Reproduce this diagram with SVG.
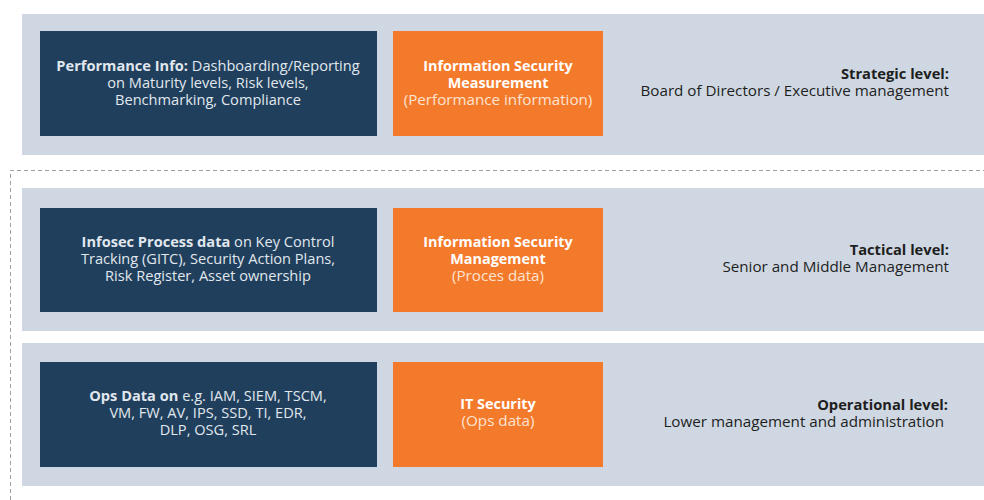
<svg xmlns="http://www.w3.org/2000/svg" width="984" height="500" viewBox="0 0 984 500">
<style>
.band{fill:#cfd8e2}
.dark{fill:#1f3f5c}
.orange{fill:#f47a2b}
.t{font-family:"Open Sans","Liberation Sans",sans-serif;font-size:14.6px}
.dt{fill:#e1e7ee;text-anchor:middle}
.ot{fill:#ffffff;text-anchor:middle;font-size:14.4px}
.ot2{fill:#fde3d2;text-anchor:middle;font-size:15.2px}
.rt{fill:#1e1e1e;text-anchor:end;font-size:15.2px}
.rb{fill:#1e1e1e;text-anchor:end;font-size:14.7px;font-weight:bold}
.b{font-weight:bold}
.dash{fill:none;stroke:#9aa0a6;stroke-width:1;stroke-dasharray:4 3}
</style>
<rect width="984" height="500" fill="#ffffff"/>
<g id="connectors">
<path class="dash" d="M10.5,500 L10.5,170.5 L984,170.5"/>
</g>
<g id="band-strategic">
<rect class="band" x="22" y="14" width="962" height="141"/>
<rect class="dark" x="40" y="31" width="337" height="105"/>
<text class="t dt" x="208" y="71"><tspan class="b">Performance Info:</tspan> Dashboarding/Reporting</text>
<text class="t dt" x="208" y="88">on Maturity levels, Risk levels,</text>
<text class="t dt" x="208" y="105">Benchmarking, Compliance</text>
<rect class="orange" x="393" y="31" width="210" height="105"/>
<text class="t ot b" x="498" y="71">Information Security</text>
<text class="t ot b" x="498" y="88">Measurement</text>
<text class="t ot2" x="498" y="105">(Performance information)</text>
<text class="t rb" x="949" y="79">Strategic level:</text>
<text class="t rt" x="949" y="96">Board of Directors / Executive management</text>
</g>
<g id="band-tactical">
<rect class="band" x="22" y="188" width="962" height="143"/>
<rect class="dark" x="40" y="208" width="337" height="104"/>
<text class="t dt" x="208" y="247"><tspan class="b">Infosec Process data</tspan> on Key Control</text>
<text class="t dt" x="208" y="264">Tracking (GITC), Security Action Plans,</text>
<text class="t dt" x="208" y="281">Risk Register, Asset ownership</text>
<rect class="orange" x="393" y="208" width="210" height="104"/>
<text class="t ot b" x="498" y="247">Information Security</text>
<text class="t ot b" x="498" y="264">Management</text>
<text class="t ot2" x="498" y="281">(Proces data)</text>
<text class="t rb" x="949" y="255">Tactical level:</text>
<text class="t rt" x="949" y="272">Senior and Middle Management</text>
</g>
<g id="band-operational">
<rect class="band" x="22" y="343" width="962" height="143"/>
<rect class="dark" x="40" y="362" width="337" height="105"/>
<text class="t dt" x="208" y="401"><tspan class="b">Ops Data on</tspan> e.g. IAM, SIEM, TSCM,</text>
<text class="t dt" x="208" y="418">VM, FW, AV, IPS, SSD, TI, EDR,</text>
<text class="t dt" x="208" y="435">DLP, OSG, SRL</text>
<rect class="orange" x="393" y="362" width="210" height="105"/>
<text class="t ot b" x="498" y="409">IT Security</text>
<text class="t ot2" x="498" y="426">(Ops data)</text>
<text class="t rb" x="948" y="410">Operational level:</text>
<text class="t rt" x="944" y="427">Lower management and administration</text>
</g>
</svg>
